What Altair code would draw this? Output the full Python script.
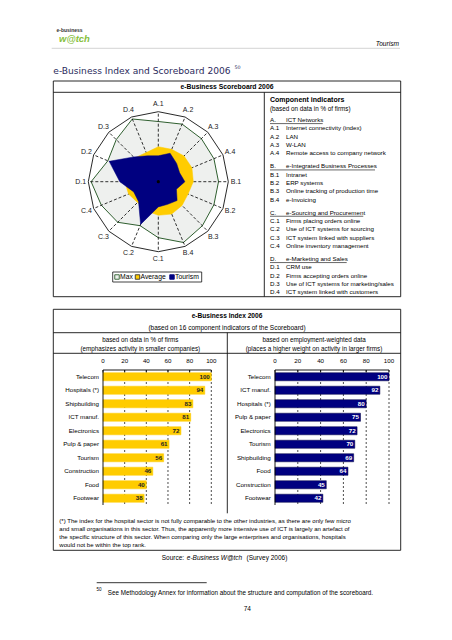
import math
import altair as alt
import pandas as pd

# ------------------------------------------------------------------ data
RADAR_AXES = ["A.1", "A.2", "A.3", "A.4", "B.1", "B.2", "B.3", "B.4",
              "C.1", "C.2", "C.3", "C.4", "D.1", "D.2", "D.3", "D.4"]
MAX_VALUES = [86, 89, 87, 86, 86, 86, 89, 94, 80, 68, 82, 88, 96, 78, 85, 97]
AVERAGE_VALUES = [50, 50, 52, 52, 50, 46, 48, 50, 48, 45, 42, 46, 48, 50, 48, 45]
TOURISM_VALUES = [37, 44, 37, 33, 38, 28, 38, 35, 36, 66, 40, 38, 55, 76, 50, 40]
LEGEND_SERIES = ["Max", "Average", "Tourism"]

GROUP_CODES = ["A.", "B.", "C.", "D."]
GROUP_NAMES = ["ICT Networks", "e-Integrated Business Processes",
               "e-Sourcing and Procurement", "e-Marketing and Sales"]
INDICATOR_NAMES = [
    "Internet connectivity (index)", "LAN", "W-LAN", "Remote access to company network",
    "Intranet", "ERP systems", "Online tracking of production time", "e-Invoicing",
    "Firms placing orders online", "Use of ICT systems for sourcing",
    "ICT system linked with suppliers", "Online inventory management",
    "CRM use", "Firms accepting orders online", "Use of ICT systems for marketing/sales",
    "ICT system linked with customers",
]

FIRMS_SECTORS = ["Telecom", "Hospitals (*)", "Shipbuilding", "ICT manuf.", "Electronics",
                 "Pulp & paper", "Tourism", "Construction", "Food", "Footwear"]
FIRMS_INDEX = [100, 94, 83, 81, 72, 61, 56, 46, 40, 38]
EMPL_SECTORS = ["Telecom", "ICT manuf.", "Hospitals (*)", "Pulp & paper", "Electronics",
                "Tourism", "Shipbuilding", "Food", "Construction", "Footwear"]
EMPL_INDEX = [100, 92, 80, 75, 72, 70, 69, 64, 45, 42]
INDEX_TICKS = [0, 20, 40, 60, 80, 100]

FOOTNOTE_LINES = [
    "(*) The index for the hospital sector is not fully comparable to the other industries, as there are only few micro",
    "and small organisations in this sector. Thus, the apparently more intensive use of ICT is largely an artefact of",
    "the specific structure of this sector. When comparing only the large enterprises and organisations, hospitals",
    "would not be within the top rank.",
]

# ------------------------------------------------------------------ layout / style
M = 8
FONT = "Liberation Sans"
YELLOW = "#FFCC00"
NAVY = "#000080"
GREEN = "#2f5f2f"
DOTS = "#eef0ee"
LINE = "#111111"
ONE = pd.DataFrame({"k": [0]})


def px(v):
    return v - M


def text(s, x, y, size=6.2, align="left", weight="normal", style="normal",
         color="black", font=FONT):
    return alt.Chart(pd.DataFrame({"t": [s]})).mark_text(
        align=align, baseline="middle", fontSize=size, fontWeight=weight,
        fontStyle=style, color=color, font=font,
    ).encode(x=alt.value(px(x)), y=alt.value(px(y)), text="t:N")


def rule(x1, y1, x2, y2, color=LINE, width=0.9, dash=None):
    mk = dict(color=color, strokeWidth=width)
    if dash:
        mk["strokeDash"] = dash
    return alt.Chart(ONE).mark_rule(**mk).encode(
        x=alt.value(px(x1)), y=alt.value(px(y1)),
        x2=alt.value(px(x2)), y2=alt.value(px(y2)))


def frame(x1, y1, x2, y2, width=0.9):
    return alt.Chart(ONE).mark_rect(fill="white", fillOpacity=0, stroke=LINE,
                                    strokeWidth=width).encode(
        x=alt.value(px(x1)), y=alt.value(px(y1)),
        x2=alt.value(px(x2)), y2=alt.value(px(y2)))


layers = []

# ------------------------------------------------------------------ page header
layers += [
    text("e-business", 56.5, 30, size=5, weight="bold", color="#333333"),
    text("w@tch", 59, 39, size=9.5, weight="bold", style="italic", color="#86c03c"),
    text("Tourism", 399, 43.5, size=6.6, align="right", style="italic"),
    rule(51.7, 48.3, 400, 48.3, color="#c8c8c8", width=0.8),
    text("e-Business Index and Scoreboard 2006", 53.3, 70.5, size=9.1,
         color="#2b2b5c", font="DejaVu Sans"),
    text("50", 234.5, 67.5, size=4.8, color="#2b2b5c", font="DejaVu Sans"),
]

# ------------------------------------------------------------------ scoreboard box
layers += [
    frame(53.3, 81, 400.7, 296.7),
    rule(53.3, 92.3, 400.7, 92.3),
    rule(264.3, 92.3, 264.3, 296.7),
    text("e-Business Scoreboard 2006", 227, 87.2, size=6.8, align="center", weight="bold"),
]

# radar
CX, CY, R = 158.3, 181.7, 70
LAB_R = 111
rx = alt.Scale(domain=[-100, 100], range=[px(CX - R), px(CX + R)], nice=False, zero=False)
ry = alt.Scale(domain=[-100, 100], range=[px(CY + R), px(CY - R)], nice=False, zero=False)
N = len(RADAR_AXES)


def polygon(values):
    rows = []
    for i in range(N + 1):
        k = i % N
        a = 2 * math.pi * k / N
        rows.append({"i": i, "axis": RADAR_AXES[k],
                     "x": values[k] * math.sin(a), "y": values[k] * math.cos(a)})
    return pd.DataFrame(rows)


def poly(values, fill, stroke, sw):
    return alt.Chart(polygon(values)).mark_line(
        fill=fill, stroke=stroke, strokeWidth=sw, interpolate="linear"
    ).encode(x=alt.X("x:Q", scale=rx, axis=None),
             y=alt.Y("y:Q", scale=ry, axis=None),
             order=alt.Order("i:Q"))


spokes = pd.DataFrame({
    "axis": RADAR_AXES,
    "x0": [0.0] * N, "y0": [0.0] * N,
    "x1": [100 * math.sin(2 * math.pi * k / N) for k in range(N)],
    "y1": [100 * math.cos(2 * math.pi * k / N) for k in range(N)],
})
labels = pd.DataFrame({
    "axis": RADAR_AXES,
    "x": [LAB_R * math.sin(2 * math.pi * k / N) for k in range(N)],
    "y": [LAB_R * math.cos(2 * math.pi * k / N) for k in range(N)],
})

radar = alt.layer(
    poly([100] * N, "white", LINE, 0.9),
    poly(MAX_VALUES, DOTS, GREEN, 1.0),
    alt.Chart(spokes).mark_rule(color="black", strokeWidth=0.8, strokeDash=[3, 2]).encode(
        x=alt.X("x0:Q", scale=rx, axis=None), y=alt.Y("y0:Q", scale=ry, axis=None),
        x2="x1:Q", y2="y1:Q"),
    poly(AVERAGE_VALUES, YELLOW, YELLOW, 0.5),
    poly(TOURISM_VALUES, NAVY, NAVY, 0.5),
    alt.Chart(ONE).mark_point(filled=True, color="black", size=10, opacity=1).encode(
        x=alt.X(datum=0, type="quantitative", scale=rx, axis=None),
        y=alt.Y(datum=0, type="quantitative", scale=ry, axis=None)),
    alt.Chart(labels).mark_text(fontSize=7, font=FONT, color="#222222",
                                align="center", baseline="middle").encode(
        x=alt.X("x:Q", scale=rx, axis=None), y=alt.Y("y:Q", scale=ry, axis=None),
        text="axis:N"),
)
layers.append(radar)

# radar legend
layers.append(frame(112.7, 272, 201.7, 282, width=0.8))
leg_sq_x = [117, 137.5, 172]
leg_tx_x = [120, 140.5, 175]
leg_fill = ["#eef2ee", YELLOW, NAVY]
leg_stroke = [GREEN, "#333333", NAVY]
for name, sx, tx, f, s in zip(LEGEND_SERIES, leg_sq_x, leg_tx_x, leg_fill, leg_stroke):
    layers.append(alt.Chart(pd.DataFrame({"s": [name]})).mark_square(
        size=20, fill=f, stroke=s, strokeWidth=0.9, opacity=1).encode(
        x=alt.value(px(sx)), y=alt.value(px(277))))
    layers.append(text(name, tx, 277, size=6.8))

# component indicators
layers += [
    text("Component indicators", 270, 100, size=7, weight="bold"),
    text("(based on data in % of firms)", 270, 108.5, size=6.3),
]
GAP = 5.56
rows = []
for g, (code, gname) in enumerate(zip(GROUP_CODES, GROUP_NAMES)):
    rows.append({"row": g * GAP, "code": code, "desc": gname})
    for j in range(4):
        rows.append({"row": g * GAP + j + 1, "code": f"{code}{j + 1}",
                     "desc": INDICATOR_NAMES[g * 4 + j]})
ind = pd.DataFrame(rows)
ind_y = alt.Scale(domain=[0, 3 * GAP + 4], range=[px(120), px(292.3)], nice=False, zero=False)
indicators = alt.layer(
    alt.Chart(ind).mark_text(align="left", baseline="middle", fontSize=6.2, font=FONT,
                             color="black").encode(
        x=alt.value(px(270)), y=alt.Y("row:Q", scale=ind_y, axis=None), text="code:N"),
    alt.Chart(ind).mark_text(align="left", baseline="middle", fontSize=6.2, font=FONT,
                             color="black").encode(
        x=alt.value(px(286)), y=alt.Y("row:Q", scale=ind_y, axis=None), text="desc:N"),
)
layers.append(indicators)
underline_end = [322.7, 375, 363.3, 346.7]
for g in range(4):
    yy = 120 + g * GAP * (172.3 / (3 * GAP + 4)) + 3.6
    layers.append(rule(270, yy, underline_end[g], yy, color="black", width=0.6))

# ------------------------------------------------------------------ index box
layers += [
    frame(53.3, 309.3, 400.7, 550.3),
    rule(53.3, 332.7, 400.7, 332.7),
    rule(53.3, 353.3, 400.7, 353.3),
    rule(227.3, 332.7, 227.3, 513.3),
    text("e-Business Index 2006", 227, 315.7, size=6.6, align="center", weight="bold"),
    text("(based on 16 component indicators of the Scoreboard)", 227, 327.5,
         size=6.5, align="center"),
    text("based on data in % of firms", 140.3, 340, size=6.3, align="center"),
    text("(emphasizes activity in smaller companies)", 140.3, 349, size=6.3, align="center"),
    text("based on employment-weighted data", 314, 340, size=6.3, align="center"),
    text("(places a higher weight on activity in larger firms)", 314, 349, size=6.3,
         align="center"),
]

TOP, BOT = 370, 505


def bar_panel(sectors, values, x_left, x_right, label_right, bar_color, bar_stroke,
              value_color):
    xs = alt.Scale(domain=[0, 100], range=[px(x_left), px(x_right)], nice=False, zero=False)
    ys = alt.Scale(domain=sectors, range=[px(TOP), px(BOT)], paddingInner=0.4,
                   paddingOuter=0.2)
    df = pd.DataFrame({"sector": sectors, "value": values})
    ticks = pd.DataFrame({"t": INDEX_TICKS})
    span = pd.DataFrame({"a": [0], "b": [100]})
    X = lambda f: alt.X(f, scale=xs, axis=None)
    Y = lambda f: alt.Y(f, scale=ys, axis=None, sort=None)
    return alt.layer(
        alt.Chart(ticks).transform_filter("datum.t > 0").mark_rule(
            color="black", strokeWidth=0.7, strokeDash=[2, 2]).encode(
            x=X("t:Q"), y=alt.value(px(TOP)), y2=alt.value(px(BOT))),
        alt.Chart(df).mark_bar(color=bar_color, stroke=bar_stroke, strokeWidth=0.5).encode(
            x=X("value:Q"), x2=alt.X2(datum=0), y=Y("sector:N")),
        alt.Chart(span).mark_rule(color="black", strokeWidth=0.9).encode(
            x=X("a:Q"), x2="b:Q", y=alt.value(px(TOP))),
        alt.Chart(span).mark_rule(color="black", strokeWidth=0.9).encode(
            x=X("a:Q"), y=alt.value(px(TOP)), y2=alt.value(px(BOT))),
        alt.Chart(ticks).mark_rule(color="black", strokeWidth=0.8).encode(
            x=X("t:Q"), y=alt.value(px(TOP)), y2=alt.value(px(TOP + 2.5))),
        alt.Chart(ticks).mark_text(fontSize=6.2, font=FONT, color="black",
                                   align="center", baseline="middle").encode(
            x=X("t:Q"), y=alt.value(px(361)), text="t:Q"),
        alt.Chart(df).mark_text(fontSize=6.2, font=FONT, color="black",
                                align="right", baseline="middle").encode(
            x=alt.value(px(label_right)), y=Y("sector:N"), text="sector:N"),
        alt.Chart(df).mark_text(fontSize=6.2, font=FONT, color=value_color, fontWeight="bold",
                                align="right", baseline="middle", dx=-1.5).encode(
            x=X("value:Q"), y=Y("sector:N"), text="value:Q"),
    )


layers.append(bar_panel(FIRMS_SECTORS, FIRMS_INDEX, 103, 211.3, 99, YELLOW, YELLOW, "#222222"))
layers.append(bar_panel(EMPL_SECTORS, EMPL_INDEX, 275, 389, 270.7, NAVY, "#000040", "white"))

for i, line in enumerate(FOOTNOTE_LINES):
    layers.append(text(line, 59.3, 521 + i * 8.1, size=6.05))

# ------------------------------------------------------------------ source & footnotes
layers += [
    text("Source:", 161.7, 558.3, size=6.5),
    text("e-Business W@tch", 186.8, 558.3, size=6.5, style="italic"),
    text("(Survey 2006)", 246.5, 558.3, size=6.5),
    rule(96.7, 582.7, 206.7, 582.7, color="black", width=0.8),
    text("50", 96.5, 590, size=4.5),
    text("See Methodology Annex for information about the structure and computation of the scoreboard.",
         107.7, 593, size=6.3),
    text("74", 247.3, 608.7, size=6.5, align="center"),
]

chart = alt.layer(*layers).resolve_scale(
    x="independent", y="independent"
).properties(
    width=436, height=624, padding=0, autosize="none"
).configure_view(stroke=None)

chart.save("out.html", embed_options={"renderer": "svg", "actions": False})
